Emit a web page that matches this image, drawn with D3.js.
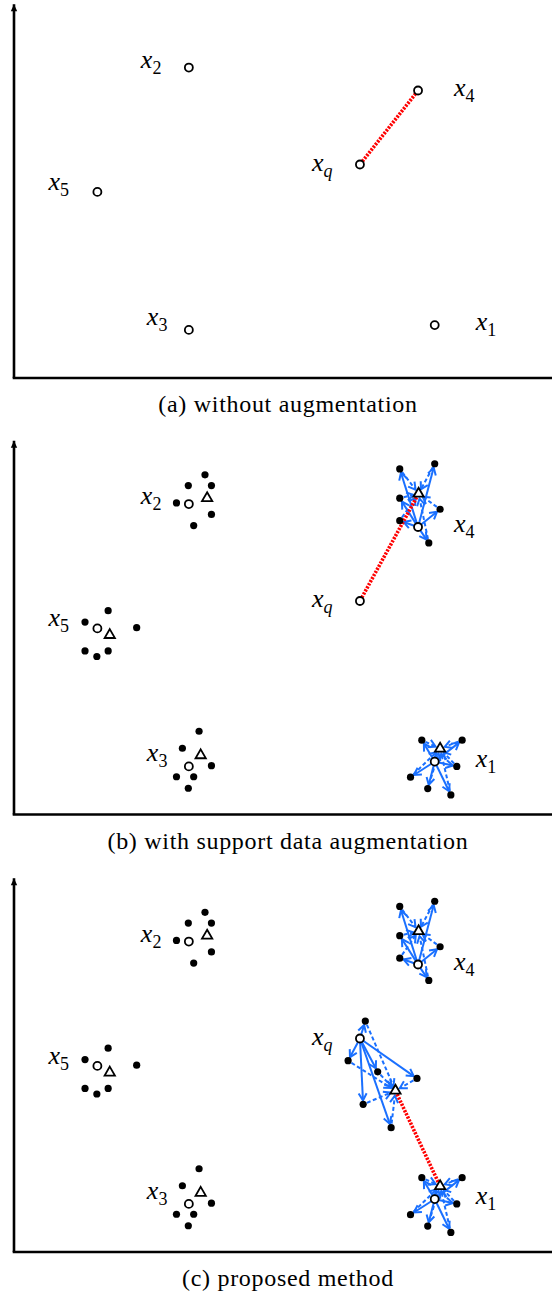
<!DOCTYPE html>
<html>
<head>
<meta charset="utf-8">
<script src="https://cdn.jsdelivr.net/npm/d3@7"></script>
<style>
  body { margin: 0; background: #fff; }
  text { font-family: "Liberation Serif", "DejaVu Serif", "Times New Roman", serif; }
</style>
</head>
<body>
<script>
// support samples (open circles) and the query, in axis units 0..100
const names = ["x1", "x2", "x3", "x4", "x5", "xq"];
const subs = ["1", "2", "3", "4", "5", "q"];
const supportX = [78.2, 32.5, 32.5, 75.1, 15.5, 64.3];
const supportY = [14.3, 83.9, 13.0, 77.7, 50.3, 57.7];

// prototypes of each augmented set (triangles)
const protoX = [79.2, 35.9, 34.7, 75.2, 17.8, 70.9];
const protoY = [17.8, 85.5, 16.0, 86.7, 48.5, 43.6];

// augmented samples (filled dots)
const aug1 = [[75.8, 20.1], [83.3, 20.1], [82.3, 13.0], [73.7, 10.1], [76.9, 7.0], [81.2, 5.3]];
const aug2 = [[35.5, 91.8], [32.4, 88.9], [36.7, 88.9], [30.2, 84.2], [36.7, 81.1], [33.4, 78.1]];
const aug3 = [[34.4, 22.5], [31.3, 17.9], [36.7, 13.2], [30.2, 10.2], [33.4, 10.2], [32.4, 7.1]];
const aug4 = [[71.7, 93.4], [78.2, 94.8], [71.7, 85.5], [79.2, 82.5], [71.7, 79.4], [77.1, 73.4]];
const aug5 = [[17.5, 55.1], [13.2, 52.0], [22.8, 50.5], [13.2, 44.2], [15.4, 42.7], [17.5, 44.2]];
const augQ = [[65.3, 62.4], [62.1, 51.7], [67.6, 48.7], [74.9, 46.9], [64.9, 39.9], [70.1, 33.6]];

const captions = [
  "(a) without augmentation",
  "(b) with support data augmentation",
  "(c) proposed method",
];

const augByName = { x1: aug1, x2: aug2, x3: aug3, x4: aug4, x5: aug5, xq: augQ };

const panels = [
  { augmented: [], arrows: [], link: [["support", "xq"], ["support", "x4"]] },
  { augmented: ["x1", "x2", "x3", "x4", "x5"], arrows: ["x1", "x4"], link: [["support", "xq"], ["proto", "x4"]] },
  { augmented: names, arrows: ["x1", "x4", "xq"], link: [["proto", "xq"], ["proto", "x1"]] },
];

const width = 552, height = 1295;
const panelTop = [0, 436.5, 874];
const blue = "#1a70ff";
const labelOffset = { x1: [41, 5], x2: [-48, 0], x3: [-42, -5], x4: [36, 5], x5: [-49, -2], xq: [-48, 6] };

const x = d3.scaleLinear().domain([0, 100]).range([14, 552]);
const y = d3.scaleLinear().domain([0, 100]).range([378, 8]);

const svg = d3.select("body").append("svg")
  .attr("width", width)
  .attr("height", height);

const defs = svg.append("defs");
defs.append("marker")
  .attr("id", "axisHead")
  .attr("viewBox", "-8 -5 10 10")
  .attr("markerUnits", "userSpaceOnUse")
  .attr("markerWidth", 10).attr("markerHeight", 10)
  .attr("orient", "auto")
  .append("path")
  .attr("d", "M-7,-3.2L0,0L-7,3.2Z")
  .attr("fill", "#000");

defs.append("marker")
  .attr("id", "blueHead")
  .attr("viewBox", "-9 -6 12 12")
  .attr("markerUnits", "userSpaceOnUse")
  .attr("markerWidth", 12).attr("markerHeight", 12)
  .attr("orient", "auto")
  .append("path")
  .attr("d", "M-7,-4L0,0L-7,4")
  .attr("fill", "none")
  .attr("stroke", blue)
  .attr("stroke-width", 2);

function pos(kind, name) {
  const i = names.indexOf(name);
  return kind === "proto" ? [x(protoX[i]), y(protoY[i])] : [x(supportX[i]), y(supportY[i])];
}

// trim a segment so it starts/ends at the edge of the markers
function trim(p0, p1, r0, r1) {
  const dx = p1[0] - p0[0], dy = p1[1] - p0[1];
  const len = Math.hypot(dx, dy);
  const ux = dx / len, uy = dy / len;
  return [p0[0] + ux * r0, p0[1] + uy * r0, p1[0] - ux * r1, p1[1] - uy * r1];
}

panels.forEach((panel, k) => {
  const g = svg.append("g").attr("transform", `translate(0,${panelTop[k]})`);

  // axes
  g.append("line")
    .attr("x1", x(0)).attr("y1", y(0))
    .attr("x2", x(0)).attr("y2", y(101))
    .attr("stroke", "#000").attr("stroke-width", 2.6)
    .attr("marker-end", "url(#axisHead)");
  g.append("line")
    .attr("x1", x(0) - 1.3).attr("y1", y(0))
    .attr("x2", x(103)).attr("y2", y(0))
    .attr("stroke", "#000").attr("stroke-width", 2.6);

  // blue arrows: support -> augmented (solid), augmented -> prototype (dashed)
  const arrows = [];
  panel.arrows.forEach((name) => {
    const s = pos("support", name), p = pos("proto", name);
    augByName[name].forEach((d) => {
      const a = [x(d[0]), y(d[1])];
      arrows.push({ seg: trim(s, a, 4, 4), dash: null });
      arrows.push({ seg: trim(a, p, 4, 5), dash: "4,2.5" });
    });
  });
  g.append("g").selectAll("line")
    .data(arrows)
    .join("line")
    .attr("x1", (d) => d.seg[0]).attr("y1", (d) => d.seg[1])
    .attr("x2", (d) => d.seg[2]).attr("y2", (d) => d.seg[3])
    .attr("stroke", blue)
    .attr("stroke-width", 2)
    .attr("stroke-dasharray", (d) => d.dash)
    .attr("marker-end", "url(#blueHead)");

  // red dotted nearest-neighbour link
  const l0 = pos(panel.link[0][0], panel.link[0][1]);
  const l1 = pos(panel.link[1][0], panel.link[1][1]);
  const ls = trim(l0, l1, 4, 4);
  g.append("line")
    .attr("x1", ls[0]).attr("y1", ls[1])
    .attr("x2", ls[2]).attr("y2", ls[3])
    .attr("stroke", "#ff0000")
    .attr("stroke-width", 3.6)
    .attr("stroke-dasharray", "2.2,1.3");

  // augmented dots
  const dots = panel.augmented.flatMap((name) => augByName[name]);
  g.append("g").selectAll("circle")
    .data(dots)
    .join("circle")
    .attr("cx", (d) => x(d[0]))
    .attr("cy", (d) => y(d[1]))
    .attr("r", 3.6)
    .attr("fill", "#000");

  // prototypes
  g.append("g").selectAll("path")
    .data(panel.augmented)
    .join("path")
    .attr("transform", (name) => `translate(${pos("proto", name)})`)
    .attr("d", d3.symbol(d3.symbolTriangle, 46))
    .attr("fill", "#fff")
    .attr("stroke", "#000")
    .attr("stroke-width", 1.8);

  // support samples and query
  g.append("g").selectAll("circle")
    .data(names)
    .join("circle")
    .attr("cx", (name) => pos("support", name)[0])
    .attr("cy", (name) => pos("support", name)[1])
    .attr("r", 4)
    .attr("fill", "#fff")
    .attr("stroke", "#000")
    .attr("stroke-width", 1.8);

  // labels x_i
  const label = g.append("g").selectAll("text")
    .data(names)
    .join("text")
    .attr("x", (name) => pos("support", name)[0] + labelOffset[name][0])
    .attr("y", (name) => pos("support", name)[1] + labelOffset[name][1])
    .attr("font-size", 26)
    .attr("fill", "#000");
  label.append("tspan").attr("font-style", "italic").text("x");
  label.append("tspan")
    .attr("dy", 6)
    .attr("font-size", 18)
    .attr("font-style", (name, i) => (subs[i] === "q" ? "italic" : "normal"))
    .text((name, i) => subs[i]);

  // caption
  g.append("text")
    .attr("x", 288)
    .attr("y", 412)
    .attr("text-anchor", "middle")
    .attr("font-size", 24)
    .attr("letter-spacing", 0.7)
    .attr("fill", "#000")
    .text(captions[k]);
});
</script>
</body>
</html>
